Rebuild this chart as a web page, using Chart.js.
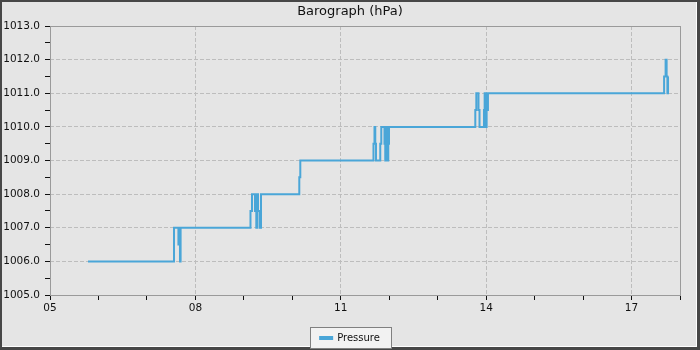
<!DOCTYPE html>
<html>
<head>
<meta charset="utf-8">
<script src="https://cdn.jsdelivr.net/npm/chart.js@4/dist/chart.umd.min.js"></script>
<style>
  html, body { margin: 0; padding: 0; background: #444; }
  #wrap { width: 700px; height: 350px; position: relative; }
  canvas { display: block; }
</style>
</head>
<body>
<div id="wrap"><canvas id="c" width="700" height="350"></canvas></div>
<script>
// Time in days of month, pressure in hPa (step data)
const times = [
  5.784, 7.559, 7.650, 7.671, 7.682, 7.695,
  9.137, 9.168, 9.230, 9.257, 9.271, 9.292, 9.323, 9.354,
  10.144, 10.165,
  11.675, 11.696, 11.712, 11.727, 11.815, 11.836, 11.902, 11.918, 11.939, 11.960, 11.980, 11.995,
  13.776, 13.797, 13.842, 13.863, 13.955, 13.969, 13.990, 14.010, 14.023, 14.037,
  17.672, 17.703, 17.724, 17.740, 17.753
];
const pressure = [
  1006.0, 1007.0, 1006.5, 1007.0, 1006.0, 1007.0,
  1007.5, 1008.0, 1007.5, 1007.0, 1008.0, 1007.5, 1007.0, 1008.0,
  1008.5, 1009.0,
  1009.5, 1010.0, 1009.5, 1009.0, 1009.5, 1010.0, 1009.5, 1009.0, 1010.0, 1009.0, 1009.5, 1010.0,
  1010.5, 1011.0, 1010.5, 1010.0, 1010.5, 1011.0, 1010.0, 1011.0, 1010.5, 1011.0,
  1011.5, 1012.0, 1011.5, 1011.0, 1011.5
];
const xLabelDays = [5, 8, 11, 14, 17];
const yMajor = [1005, 1006, 1007, 1008, 1009, 1010, 1011, 1012, 1013];

const points = times.map((t, i) => ({ x: t, y: pressure[i] }));

const FONT = 'DejaVu Sans';
const GRID = '#bdbdbd';

const framePlugin = {
  id: 'frame',
  beforeDraw(chart) {
    const ctx = chart.ctx;
    ctx.save();
    ctx.fillStyle = '#474747';
    ctx.fillRect(0, 0, 700, 350);
    ctx.fillStyle = '#ffffff';
    ctx.fillRect(2, 2, 695, 345);
    ctx.fillStyle = '#e5e5e5';
    ctx.fillRect(2, 2, 694, 344);
    // legend box
    const lg = chart.legend;
    if (lg && lg.legendHitBoxes && lg.legendHitBoxes.length) {
      const hb = lg.legendHitBoxes[0];
      const cy = hb.top + hb.height / 2;
      const l = Math.round(hb.left - 10) + 0.5;
      const r = Math.round(hb.left + hb.width + 11) + 0.5;
      const t = Math.round(cy - 11) + 0.5;
      const b = Math.round(cy + 10) + 0.5;
      ctx.fillStyle = '#f2f2f2';
      ctx.fillRect(l, t, r - l, b - t);
      ctx.strokeStyle = '#808080';
      ctx.lineWidth = 1;
      ctx.strokeRect(l, t, r - l, b - t);
    }
    ctx.restore();
  },
  beforeDatasetsDraw(chart) {
    const { ctx, chartArea: a } = chart;
    ctx.save();
    ctx.strokeStyle = '#9a9a9a';
    ctx.lineWidth = 1;
    ctx.strokeRect(Math.round(a.left) + 0.5, Math.round(a.top) + 0.5,
                   Math.round(a.right - a.left), Math.round(a.bottom - a.top));
    ctx.restore();
  }
};

new Chart(document.getElementById('c'), {
  type: 'line',
  data: {
    datasets: [{
      label: 'Pressure',
      data: points,
      stepped: 'before',
      borderColor: '#4aa6d8',
      backgroundColor: '#4aa6d8',
      borderWidth: 2,
      pointRadius: 0,
      fill: false
    }]
  },
  options: {
    responsive: false,
    animation: false,
    events: [],
    layout: { padding: { left: 0, right: 0, top: 0, bottom: -3 } },
    plugins: {
      title: {
        display: true,
        text: 'Barograph (hPa)',
        color: '#111',
        font: { family: FONT, size: 13, weight: 'normal' },
        padding: { top: 4.2, bottom: 6.2 }
      },
      legend: {
        display: true,
        position: 'bottom',
        labels: {
          color: '#111',
          font: { family: FONT, size: 10 },
          boxWidth: 12,
          boxHeight: 2,
          padding: 10
        }
      },
      tooltip: { enabled: false }
    },
    scales: {
      x: {
        type: 'linear',
        min: 5,
        max: 18,
        afterFit(s) { s.height = 28; },
        ticks: {
          stepSize: 1,
          autoSkip: false,
          maxRotation: 0,
          padding: 2,
          color: '#111',
          font: { family: FONT, size: 10.5 },
          callback: (v) => xLabelDays.includes(v) ? String(v).padStart(2, '0') : ''
        },
        grid: {
          color: (c) => (c.tick && xLabelDays.includes(c.tick.value)) ? GRID : 'rgba(0,0,0,0)',
          tickColor: '#111',
          tickLength: 5,
          lineWidth: 1
        },
        border: { display: false, dash: [4, 2] }
      },
      y: {
        min: 1005,
        max: 1013,
        afterFit(s) { s.width = 50; },
        ticks: {
          stepSize: 0.5,
          autoSkip: false,
          padding: 5,
          color: '#111',
          font: { family: FONT, size: 10.5 },
          callback: (v) => yMajor.includes(v) ? v.toFixed(1) : ''
        },
        grid: {
          color: (c) => (c.tick && yMajor.includes(c.tick.value)) ? GRID : 'rgba(0,0,0,0)',
          tickColor: '#111',
          tickLength: 5,
          lineWidth: 1
        },
        border: { display: false, dash: [4, 2] }
      },
      yr: {
        position: 'right',
        display: true,
        afterFit(s) { s.width = 20; },
        ticks: { display: false },
        grid: { display: false, drawTicks: false },
        border: { display: false }
      }
    }
  },
  plugins: [framePlugin]
});
</script>
</body>
</html>
